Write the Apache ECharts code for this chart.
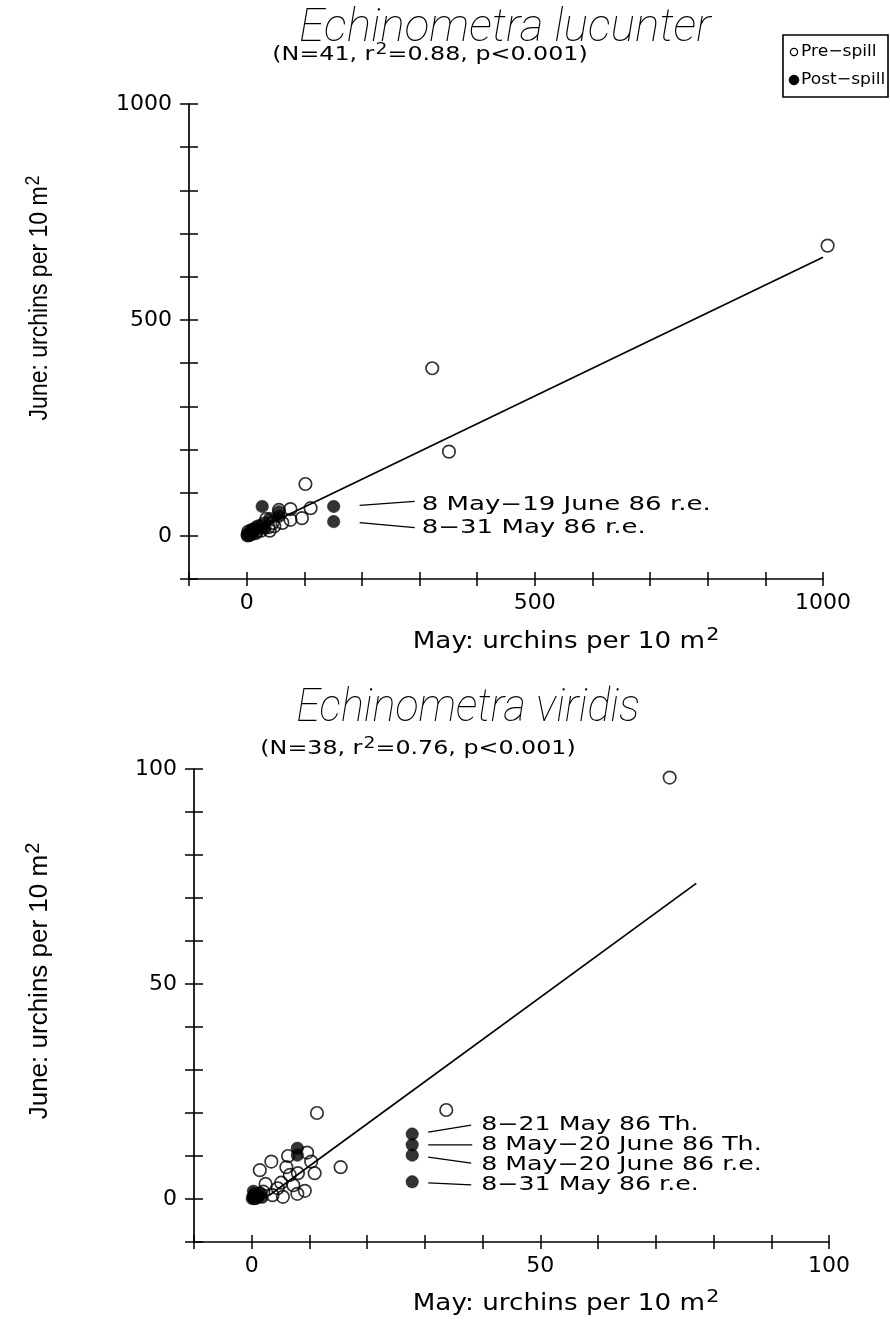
<!DOCTYPE html>
<html>
<head>
<meta charset="utf-8">
<script src="https://cdn.jsdelivr.net/npm/echarts@6/dist/echarts.min.js"></script>
<style>
  html, body { margin: 0; padding: 0; background: #fff; }
  #chart { width: 890px; height: 1321px; }
</style>
</head>
<body>
<div id="chart"></div>
<script>
// ---- Echinometra lucunter (urchins per 10 m2, May vs June) ----
const lucTitle = 'Echinometra lucunter';
const lucStats = ['(N=41, r', '2', '=0.88, p<0.001)'];
const lucPreSpill = [
  [1008, 672], [322, 388], [351, 195], [102, 120], [111, 64], [96, 41],
  [76, 62], [76, 37], [56, 60], [34, 39], [38, 20], [21, 22], [12, 14],
  [3, 10], [45, 30], [62, 30], [8, 4], [25, 12], [15, 6], [5, 2],
  [30, 28], [18, 10], [10, 8], [2, 1], [48, 22], [40, 12]
];
const lucPostSpill = [
  [151, 68], [151, 33], [27, 68], [56, 45], [56, 56], [16, 20], [3, 6],
  [27, 25], [10, 10], [5, 3], [20, 15], [40, 40], [8, 14], [1, 2], [32, 18]
];
const lucFit = [[10, 9], [1000, 645]];
const lucAxisRange = [-100, 1000];
const lucTickStep = 100;
const lucLabelStep = 500;
// labelled post-spill sites: index into lucPostSpill, text
const lucNotes = [
  [0, '8 May\u221219 June 86 r.e.'],
  [1, '8\u221231 May 86 r.e.']
];

// ---- Echinometra viridis ----
const virTitle = 'Echinometra viridis';
const virStats = ['(N=38, r', '2', '=0.76, p<0.001)'];
const virPreSpill = [
  [72.4, 98], [33.7, 20.7], [11.3, 20], [15.4, 7.4], [3.4, 8.7], [1.4, 6.7],
  [6.3, 10], [9.6, 10.8], [10.3, 8.7], [6.0, 7.4], [8.0, 6.0], [10.9, 6.0],
  [6.6, 5.6], [5.1, 3.8], [2.4, 3.5], [9.2, 1.9], [7.9, 1.2], [5.4, 0.5],
  [3.6, 0.9], [2.0, 1.7], [1.0, 0.5], [0.5, 0.2], [4.5, 2.5], [7.2, 3.2]
];
const virPostSpill = [
  [27.8, 15.1], [27.8, 12.6], [27.8, 10.2], [27.8, 4.0], [7.9, 11.8],
  [7.9, 10.2], [0.2, 0.5], [0.5, 1.2], [1.2, 0.8], [0.3, 1.8], [1.5, 1.4],
  [0.8, 0.2], [0.1, 0.1], [1.8, 0.4]
];
const virFit = [[3, 0.8], [77, 73.4]];
const virAxisRange = [-10, 100];
const virTickStep = 10;
const virLabelStep = 50;
const virNotes = [
  [0, '8\u221221 May 86 Th.'],
  [1, '8 May\u221220 June 86 Th.'],
  [2, '8 May\u221220 June 86 r.e.'],
  [3, '8\u221231 May 86 r.e.']
];

const axisNameX = ['May: urchins per 10 m', '2'];
const axisNameY = ['June: urchins per 10 m', '2'];
const legendItems = ['Pre\u2212spill', 'Post\u2212spill'];

// ---------------------------------------------------------------
const INK = '#000';
const LABEL_FONT = 'DejaVu Sans';

const grids = [
  { left: 189, top: 104, width: 634, height: 475 },
  { left: 194, top: 769, width: 635, height: 473 }
];

function labelFormatter(step) {
  return v => (Math.abs(v % step) < 1e-9 ? String(v) : '');
}

// two axes per side: one with outward ticks + labels, one with inward ticks,
// so every tick crosses the axis line
function makeAxes(dim, gridIndex, range, step, labelStep) {
  const base = {
    type: 'value', gridIndex, min: range[0], max: range[1], interval: step,
    position: dim === 'x' ? 'bottom' : 'left',
    splitLine: { show: false }
  };
  const tickLen = dim === 'x' ? 7 : 9;
  return [
    Object.assign({}, base, {
      axisLine: { show: true, onZero: false, lineStyle: { color: INK, width: 1.7 } },
      axisTick: { show: true, inside: false, length: tickLen, lineStyle: { color: INK, width: 1.5 } },
      axisLabel: {
        show: true, formatter: labelFormatter(labelStep), color: INK,
        fontFamily: LABEL_FONT, fontSize: 22, margin: dim === 'x' ? 13 : 17,
        showMinLabel: true, showMaxLabel: true
      }
    }),
    Object.assign({}, base, {
      axisLine: { show: false, onZero: false },
      axisTick: { show: true, inside: true, length: tickLen, lineStyle: { color: INK, width: 1.5 } },
      axisLabel: { show: false }
    })
  ];
}

const openCircle = { color: 'rgba(255,255,255,0)', borderColor: INK, borderWidth: 1.7 };
const filledCircle = { color: INK, borderColor: INK, borderWidth: 0.5 };

function plotSeries(axisIndex, pre, post, fit) {
  return [
    {
      type: 'line', xAxisIndex: axisIndex, yAxisIndex: axisIndex, data: fit,
      showSymbol: false, symbol: 'none', lineStyle: { color: INK, width: 1.7 }, z: 1, silent: true
    },
    {
      type: 'scatter', xAxisIndex: axisIndex, yAxisIndex: axisIndex, data: pre, clip: false,
      symbol: 'circle', symbolSize: 12.5, itemStyle: openCircle, z: 2, silent: true
    },
    {
      type: 'scatter', xAxisIndex: axisIndex, yAxisIndex: axisIndex, data: post, clip: false,
      symbol: 'circle', symbolSize: 12.5, itemStyle: filledCircle, z: 3, silent: true
    }
  ];
}

const chart = echarts.init(document.getElementById('chart'), null, { renderer: 'canvas' });

chart.setOption({
  animation: false,
  backgroundColor: '#fff',
  grid: grids,
  xAxis: [
    ...makeAxes('x', 0, lucAxisRange, lucTickStep, lucLabelStep),
    ...makeAxes('x', 1, virAxisRange, virTickStep, virLabelStep)
  ],
  yAxis: [
    ...makeAxes('y', 0, lucAxisRange, lucTickStep, lucLabelStep),
    ...makeAxes('y', 1, virAxisRange, virTickStep, virLabelStep)
  ],
  series: [
    ...plotSeries(0, lucPreSpill, lucPostSpill, lucFit),
    ...plotSeries(2, virPreSpill, virPostSpill, virFit)
  ]
});

// ---- text, legend and annotation overlay ----
const supRich = (size) => ({
  n: { fontFamily: LABEL_FONT, fontSize: size, fill: INK },
  s: { fontFamily: LABEL_FONT, fontSize: Math.round(size * 0.8), fill: INK, verticalAlign: 'bottom', padding: [0, 0, size * 0.55, 1] }
});
const withSup = (parts) => parts.length === 3
  ? `{n|${parts[0]}}{s|${parts[1]}}{n|${parts[2]}}`
  : `{n|${parts[0]}}{s|${parts[1]}}`;

function titleText(text, cx, cy, stretch) {
  return {
    type: 'text', x: cx, y: cy, scaleX: stretch, silent: true,
    style: {
      text, font: 'italic 100 46px Roboto', fill: INK,
      textAlign: 'center', textVerticalAlign: 'middle'
    }
  };
}
function statsText(parts, cx, cy) {
  return {
    type: 'text', x: cx, y: cy, scaleX: 1.25, silent: true,
    style: {
      text: withSup(parts), rich: supRich(19), fill: INK,
      textAlign: 'center', textVerticalAlign: 'middle'
    }
  };
}
function xName(cx, cy) {
  return {
    type: 'text', x: cx, y: cy, scaleX: 1.14, silent: true,
    style: { text: withSup(axisNameX), rich: supRich(23), textAlign: 'center', textVerticalAlign: 'middle' }
  };
}
function yName(cx, cy, stretch) {
  const rich = {
    n: { fontFamily: 'Liberation Sans', fontSize: 26, fill: INK },
    s: { fontFamily: 'Liberation Sans', fontSize: 20, fill: INK, verticalAlign: 'bottom', padding: [0, 0, 14, 1] }
  };
  return {
    type: 'text', x: cx, y: cy, rotation: Math.PI / 2, scaleX: stretch, silent: true,
    style: {
      text: `{n|${axisNameY[0]}}{s|${axisNameY[1]}}`, rich,
      textAlign: 'center', textVerticalAlign: 'middle'
    }
  };
}

function notes(axisIndex, points, list, geom) {
  const out = [];
  list.forEach(([idx, label], k) => {
    const [px, py] = chart.convertToPixel({ xAxisIndex: axisIndex, yAxisIndex: axisIndex }, points[idx]);
    const g = geom[k];
    out.push({
      type: 'line', silent: true,
      shape: { x1: px + g.start, y1: py + g.dy0, x2: px + g.end, y2: py + g.dy1 },
      style: { stroke: INK, lineWidth: 1.3 }
    });
    out.push({
      type: 'text', x: px + g.text, y: py + g.dyText, scaleX: g.stretch, silent: true,
      style: {
        text: label, font: `19px ${LABEL_FONT}`, fill: INK,
        textAlign: 'left', textVerticalAlign: 'middle'
      }
    });
  });
  return out;
}

const lucNoteGeom = [
  { start: 26, end: 81, dy0: -1, dy1: -5, text: 88, dyText: -1, stretch: 1.37 },
  { start: 26, end: 81, dy0: 1, dy1: 6, text: 88, dyText: 6, stretch: 1.37 }
];
const virNoteGeom = [
  { start: 16, end: 59, dy0: -2, dy1: -9, text: 69, dyText: -9, stretch: 1.33 },
  { start: 16, end: 60, dy0: 0, dy1: 0, text: 69, dyText: 0, stretch: 1.33 },
  { start: 16, end: 59, dy0: 2, dy1: 8, text: 69, dyText: 10, stretch: 1.33 },
  { start: 16, end: 59, dy0: 1, dy1: 3, text: 69, dyText: 3, stretch: 1.33 }
];

const legendGroup = {
  type: 'group', x: 783, y: 35, silent: true,
  children: [
    { type: 'rect', shape: { x: 0, y: 0, width: 105, height: 62 }, style: { fill: '#fff', stroke: INK, lineWidth: 1.6 } },
    { type: 'circle', shape: { cx: 11, cy: 17, r: 3.6 }, style: { fill: 'none', stroke: INK, lineWidth: 1.3 } },
    { type: 'text', x: 18, y: 17, scaleX: 1.07, style: { text: legendItems[0], font: `16px ${LABEL_FONT}`, fill: INK, textVerticalAlign: 'middle' } },
    { type: 'circle', shape: { cx: 11, cy: 45, r: 4.8 }, style: { fill: INK, stroke: INK, lineWidth: 1 } },
    { type: 'text', x: 18, y: 45, scaleX: 1.07, style: { text: legendItems[1], font: `16px ${LABEL_FONT}`, fill: INK, textVerticalAlign: 'middle' } }
  ]
};

chart.setOption({
  graphic: [
    titleText(lucTitle, 505, 29, 1.0),
    statsText(lucStats, 430, 55),
    titleText(virTitle, 468, 709, 0.94),
    statsText(virStats, 418, 749),
    xName(566, 642),
    xName(566, 1304),
    yName(40, 298, 0.885),
    yName(40, 981, 1.0),
    legendGroup,
    ...notes(0, lucPostSpill, lucNotes, lucNoteGeom),
    ...notes(2, virPostSpill, virNotes, virNoteGeom)
  ]
});
</script>
</body>
</html>
